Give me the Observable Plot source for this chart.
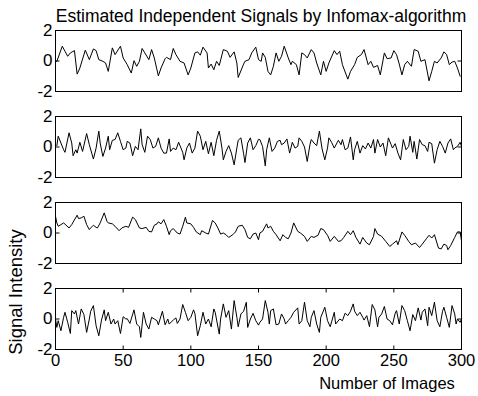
<!DOCTYPE html>
<html><head><meta charset="utf-8">
<script src="https://cdn.jsdelivr.net/npm/d3@7"></script>
<script src="https://cdn.jsdelivr.net/npm/@observablehq/plot@0.6"></script>
<style>
html,body{margin:0;padding:0;background:#fff;}
#chart{position:relative;width:478px;height:396px;overflow:hidden;background:#fff;}
</style></head><body><div id="chart"></div>
<script>
const titleText = "Estimated Independent Signals by Infomax-algorithm";
const xLabelText = "Number of Images";
const yLabelText = "Signal Intensity";
const panels = ["s1", "s2", "s3", "s4"];
const xTicks = [0, 50, 100, 150, 200, 250, 300];
const yTicks = [-2, 0, 2];
const xDomain = [0, 300];
const yDomain = [-2, 2];

const sig1X = [0,1,5,7,9,11,14,16,18,22,25,28,30,32,35,37,39,42,44,48,50,53,56,58,60,62,64,66,69,71,73,76,78,81,82,85,87,89,92,95,98,100,103,105,107,109,112,113,115,117,119,121,124,127,129,132,134,135,139,140,143,145,148,150,152,153,155,157,159,161,163,165,167,169,172,174,175,178,180,182,184,186,189,191,193,196,198,200,202,206,208,210,212,216,218,221,223,226,228,231,233,235,238,240,243,245,248,250,252,254,256,258,260,263,265,268,270,273,276,278,280,282,285,287,289,291,293,295,297,299];
const sig1Y = [-0.07,-0.02,0.97,0.64,0.31,0.53,0.68,-0.86,-0.46,0.71,0.09,0.79,0.68,0.09,-0.02,-0.13,-0.68,0.86,0.42,0.97,0.2,-0.24,-0.79,0.02,-0.35,-0.02,0.82,0.53,0.09,0.75,0.2,-0.97,-0.46,0.15,0.24,0.09,0.82,0.42,-0.02,-0.13,-0.91,-0.46,0.53,0.6,0.38,0.91,0.53,-0.46,-0.2,-0.57,-0.02,-0.29,0.75,0.64,0.24,0.6,-0.13,-1.08,-0.2,-0.02,0.09,0.53,0.91,0.09,-0.02,0.53,0.24,-0.68,-0.91,-0.35,0.53,-0.02,0.31,0.97,0.2,-0.24,-0.02,-0.24,-0.91,0.53,0.42,0.2,0.75,0.53,-0.13,-0.91,-0.02,-0.68,-0.13,0.68,0.42,0.64,-0.24,-1.19,-0.68,-0.24,0.24,0.42,0.75,-0.24,-0.02,-0.42,-0.29,-0.91,0.53,0.15,0.2,0.68,0.42,-0.2,-0.91,-0.24,-0.02,-0.35,0.75,0.64,-0.02,0.09,-1.3,-0.68,-0.02,-0.13,0.2,0.6,0.42,-0.24,-0.07,-0.02,-0.46,-1.0];

const sig2X = [1,2,4,6,7,10,12,13,15,16,18,20,23,25,28,30,32,33,35,37,39,40,42,44,46,48,50,52,53,55,57,59,61,63,64,66,68,70,72,74,76,78,80,82,84,85,87,89,91,94,95,97,99,101,103,105,107,109,111,113,115,117,119,121,123,124,126,128,130,132,134,135,137,139,140,142,144,146,148,150,151,153,155,156,158,160,162,164,166,167,169,171,173,175,177,179,180,182,184,186,188,189,191,193,195,197,199,201,202,204,206,209,211,212,214,216,218,220,221,223,225,227,229,231,233,235,236,238,240,242,244,246,248,249,251,253,255,257,259,261,262,264,265,267,269,271,273,275,276,278,280,282,284,286,288,290,292,294,295,297,299,300];
const sig2Y = [0.09,0.71,0.26,-0.18,-0.35,0.93,0.26,-0.57,-0.18,-0.40,0.31,-0.29,0.88,0.15,-0.79,-0.07,1.04,0.26,-0.62,-0.07,0.71,-0.18,0.44,0.49,0.93,0.37,-0.18,-0.07,0.37,0.26,-0.57,0.04,-0.18,1.19,0.15,-0.35,0.71,0.49,-0.07,0.04,0.60,-0.07,-0.40,-0.40,0.53,-0.29,-0.07,-0.18,0.31,-0.35,-0.84,-0.07,0.26,-0.40,-0.07,1.04,0.71,-0.18,0.37,-0.44,0.31,-0.57,0.44,1.04,-0.07,-0.84,-0.29,0.09,-0.40,-1.17,-0.07,0.44,0.60,-0.44,-1.02,0.26,0.60,-0.18,0.09,0.5,0.49,0.04,-1.24,-0.18,0.60,-0.29,-0.07,0.37,0.44,0.15,0.26,0.53,-0.40,0.31,-0.07,0.04,0.60,0.37,0.0,-0.95,0.15,0.49,0.26,0.09,1.04,-0.13,-0.84,-0.07,0.60,0.31,-0.07,0.44,0.15,0.49,-0.18,-0.07,0.66,-0.84,-0.18,0.37,-0.40,0.09,-0.13,0.26,-0.07,0.49,-0.40,0.49,0.0,0.26,-0.57,0.60,0.15,-0.07,0.22,-0.40,-0.84,0.49,-0.18,0.04,0.71,-0.35,0.37,-0.79,0.49,0.15,0.09,-0.29,0.31,0.22,-1.06,-0.18,0.37,0.04,-0.40,0.26,0.53,-0.18,-0.07,0.04,0.31,0.04];

const sig3X = [0,1,2,4,6,10,12,16,17,19,21,23,25,26,28,30,31,33,36,38,39,42,44,47,49,52,54,57,59,62,64,67,69,71,73,75,76,78,80,82,84,85,87,90,92,94,96,97,100,102,104,107,108,111,113,116,118,120,122,124,126,128,131,133,135,138,140,142,144,146,148,150,151,153,156,157,159,161,163,166,168,170,172,174,176,179,181,184,186,189,191,194,196,198,201,203,206,209,211,213,216,218,220,222,225,227,230,232,235,236,238,241,244,247,249,252,253,256,258,261,263,266,269,271,274,276,278,280,283,285,287,289,290,292,295,297,299,300];
const sig3Y = [1.10,0.66,0.44,0.55,0.66,0.33,0.55,1.17,0.95,0.99,1.10,0.55,0.22,0.33,0.51,0.37,0.33,0.66,1.32,0.77,0.66,0.60,0.44,0.15,0.33,0.44,0.37,1.04,0.88,0.33,0.29,0.37,0.11,0.07,0.51,0.60,0.73,0.60,0.88,0.44,-0.11,0.15,0.29,0.0,-0.07,0.44,1.04,0.66,0.60,0.37,0.07,-0.11,0.15,0.0,-0.07,0.82,0.66,0.33,-0.07,0.0,-0.11,-0.29,-0.11,0.07,0.44,0.51,0.22,-0.29,-0.38,-0.07,0.0,-0.44,0.0,0.11,0.60,0.33,0.44,0.11,-0.11,-0.51,-0.11,-0.29,-0.38,0.0,0.66,0.11,0.0,-0.22,-0.55,-0.22,-0.29,-0.15,0.29,0.22,-0.15,-0.55,-0.22,-0.55,-0.51,-0.29,0.11,-0.11,0.15,-0.29,-0.73,-0.29,-0.66,-0.77,-0.22,0.29,-0.07,-0.22,-0.55,-0.88,-0.73,-0.51,-0.77,0.07,-0.15,-0.55,-0.77,-0.66,-0.95,-0.73,-0.38,-0.15,-0.33,-0.11,-0.99,-1.04,-0.73,-0.82,-1.10,-0.82,-0.29,0.07,0.07,-0.51];

const sig4X = [0,1,2,4,6,7,9,11,12,14,15,17,19,21,23,25,26,28,30,32,34,36,37,39,41,43,44,46,48,50,52,53,55,58,60,62,63,65,67,69,71,73,75,76,79,81,83,84,87,89,90,92,94,96,98,100,102,103,105,107,109,111,113,115,117,118,121,122,124,126,128,130,132,134,135,137,139,141,142,144,146,148,150,151,153,155,157,158,159,161,163,165,167,169,170,172,174,176,179,180,182,184,186,188,189,191,193,195,196,199,201,203,206,207,210,212,214,216,218,220,221,223,225,227,228,230,232,234,236,238,239,241,243,245,247,249,251,252,254,256,258,260,262,264,266,268,270,271,273,275,276,278,280,282,284,286,287,289,291,293,295,296,297,299,300];
const sig4Y = [0.0,-0.55,-0.11,-0.77,0.11,0.44,-0.22,-0.95,0.55,0.33,0.55,-0.33,0.66,0.29,-0.88,0.0,0.51,0.88,-0.44,-1.10,-0.07,0.60,-0.11,0.44,-0.33,0.0,-0.33,-0.11,-0.95,0.15,0.0,0.02,-0.29,0.60,-0.33,-0.51,-1.21,0.44,-0.33,-0.66,0.11,0.0,-0.11,-0.38,0.51,-0.38,0.0,-0.33,-0.07,0.07,-0.29,0.0,0.95,0.44,-0.11,0.11,0.60,0.37,-1.10,-0.44,0.44,-0.33,0.0,-0.51,0.66,0.44,-0.99,0.0,0.99,0.11,0.55,-0.66,1.21,0.11,-0.51,0.33,0.51,1.10,-0.55,0.0,0.37,-0.11,-0.4,-0.22,0.0,1.21,0.44,-0.33,0.55,0.66,-0.38,-0.33,0.33,0.0,-0.33,-0.11,0.11,0.44,0.73,-0.33,-0.11,1.10,-0.11,-0.51,0.11,0.55,-0.33,-0.88,0.11,0.77,-0.11,-0.51,0.44,-0.33,0.0,-0.11,0.38,0.22,0.51,0.99,0.51,0.22,0.44,0.11,-0.07,0.22,-0.51,0.95,0.60,-0.51,0.11,0.33,0.82,0.0,-0.11,-0.38,0.38,0.55,-0.33,0.88,0.55,-0.11,-0.77,0.29,-0.11,0.73,-0.07,0.44,0.66,-0.44,0.77,0.22,1.10,-0.11,-0.51,0.51,0.77,0.11,-0.55,0.88,0.33,-0.33,0.0,-0.22,0.0];

const seriesX = [sig1X, sig2X, sig3X, sig4X];
const seriesY = [sig1Y, sig2Y, sig3Y, sig4Y];

const rows = panels.flatMap((p, i) => seriesX[i].map((x, j) => ({panel: p, x, y: seriesY[i][j]})));

// inward tick marks (MATLAB style)
const lastPanel = panels[panels.length - 1];
const yTickMarks = panels.flatMap(p => yTicks.filter(t => t > yDomain[0] && t < yDomain[1]).flatMap(t => [
  {panel: p, x: xDomain[0], y: t, rotate: 90},
  {panel: p, x: xDomain[1], y: t, rotate: -90}
]));
const xTickMarks = xTicks.filter(t => t > xDomain[0] && t < xDomain[1]).flatMap(t => [
  {panel: lastPanel, x: t, y: yDomain[0], rotate: 0},
  {panel: lastPanel, x: t, y: yDomain[1], rotate: 180}
]);
const tickShape = {draw(ctx, l) { ctx.moveTo(0, 0); ctx.lineTo(0, -l); }};

const font = '"Liberation Sans", Arial, sans-serif';

const chart = Plot.plot({
  width: 478,
  height: 396,
  marginLeft: 55,
  marginRight: 17,
  marginTop: 30,
  marginBottom: 46,
  style: {fontFamily: font, fontSize: "16px", color: "#000", background: "#fff"},
  x: {domain: xDomain},
  y: {domain: yDomain},
  fy: {domain: panels, padding: 0.29, axis: null, label: null},
  marks: [
    Plot.axisY({ticks: yTicks, tickFormat: d => String(d), tickSize: 0, tickPadding: 3, label: null, fontSize: 17}),
    Plot.axisX({ticks: xTicks, tickFormat: d => String(d), tickSize: 0, tickPadding: 5, label: null, fontSize: 16.5}),
    Plot.line(rows, {x: "x", y: "y", fy: "panel", stroke: "#000", strokeWidth: 1}),
    Plot.vector(yTickMarks, {x: "x", y: "y", fy: "panel", rotate: "rotate", length: 4, anchor: "start", shape: tickShape, stroke: "#000", strokeWidth: 1, strokeLinecap: "butt"}),
    Plot.vector(xTickMarks, {x: "x", y: "y", fy: "panel", rotate: "rotate", length: 4, anchor: "start", shape: tickShape, stroke: "#000", strokeWidth: 1, strokeLinecap: "butt"}),
    Plot.frame({stroke: "#000", strokeWidth: 1})
  ]
});

document.getElementById("chart").appendChild(chart);

const svg = d3.select(chart);
svg.append("text")
  .attr("x", 261).attr("y", 21.5)
  .attr("text-anchor", "middle")
  .style("font-family", font).style("font-size", "17.5px").attr("fill", "#000")
  .text(titleText);
svg.append("text")
  .attr("x", 387).attr("y", 389)
  .attr("text-anchor", "middle")
  .style("font-family", font).style("font-size", "16.5px").attr("fill", "#000")
  .text(xLabelText);
svg.append("text")
  .attr("transform", "translate(22,292) rotate(-90)")
  .attr("text-anchor", "middle")
  .style("font-family", font).style("font-size", "18.5px").attr("fill", "#000")
  .text(yLabelText);
</script>
</body></html>
